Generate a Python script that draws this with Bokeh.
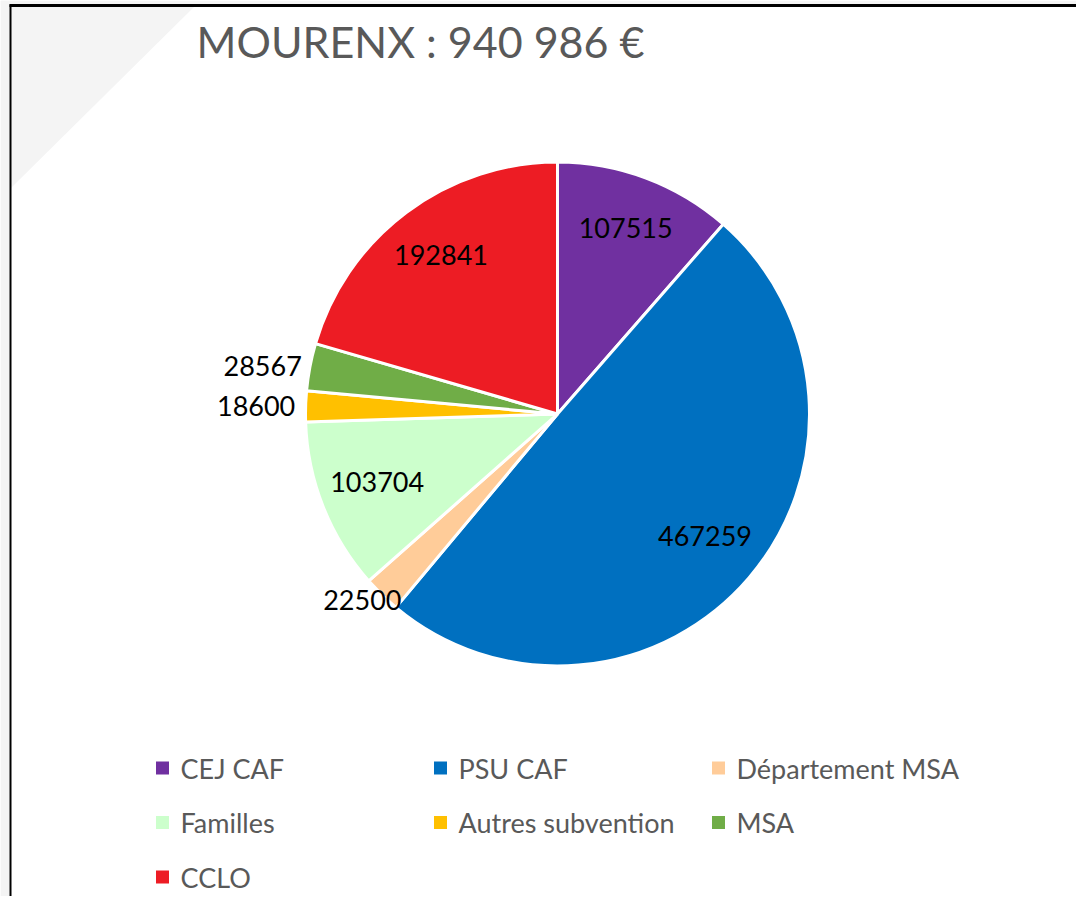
import numpy as np
from bokeh.plotting import figure
from bokeh.models import Range1d, ColumnDataSource
from bokeh.embed import file_html
from bokeh.resources import INLINE
from bokeh.core.properties import value

# ---------------- data ----------------
title_text = "MOURENX : 940 986 €"
categories = ["CEJ CAF", "PSU CAF", "Département MSA", "Familles",
              "Autres subvention", "MSA", "CCLO"]
amounts = [107515, 467259, 22500, 103704, 18600, 28567, 192841]
colors = ["#7030A0", "#0070C0", "#FFCC99", "#CCFFCC", "#FFC000", "#70AD47", "#ED1C24"]

# ---------------- layout ----------------
W, H = 1076, 896
PAGE_H = 912
FONT = "Lato"


def Y(y):
    return PAGE_H - y


p = figure(width=W, height=H, x_range=Range1d(0, W), y_range=Range1d(PAGE_H - H, PAGE_H),
           output_backend="svg", toolbar_location=None, min_border=0,
           x_axis_type=None, y_axis_type=None)
p.grid.visible = False
p.outline_line_color = None
p.background_fill_color = "white"
p.border_fill_color = "white"

# light grey surroundings and decorative corner triangle
p.patch([0, 9, 9, 0], [Y(0), Y(0), 0, 0], fill_color="#f4f4f4", line_color=None)
p.patch([0, W, W, 0], [Y(0), Y(0), Y(4), Y(4)], fill_color="#f4f4f4", line_color=None)
p.patch([10, 195, 10], [Y(5), Y(5), Y(188)], fill_color="#f4f4f4", line_color=None)
# frame
p.line([9, W], [Y(5), Y(5)], line_color="black", line_width=3)
p.line([10, 10], [Y(4), 0], line_color="black", line_width=2)

# ---------------- pie ----------------
cx, cy, R = 557, Y(413.5), 252
vals = np.array(amounts, dtype=float)
frac = vals / vals.sum()
cum_end = np.cumsum(frac)
cum_start = cum_end - frac
start_angle = np.pi / 2 - 2 * np.pi * cum_end
end_angle = np.pi / 2 - 2 * np.pi * cum_start

src = ColumnDataSource(dict(start=start_angle, end=end_angle, color=colors, cat=categories))
p.wedge(x=cx, y=cy, radius=R, start_angle="start", end_angle="end",
        fill_color="color", line_color="white", line_width=3, source=src)

# data labels
mid = 2 * np.pi * (cum_start + cum_end) / 2  # clockwise from 12 o'clock
lx, ly = [], []
for f, th in zip(frac, mid):
    s, c = np.sin(th), np.cos(th)
    if f < 0.035:
        r = 1.03 * R
        lx.append(cx + r * s + 42 * s ** 3)
        ly.append(cy + r * c)
    else:
        r = 0.77 * R
        lx.append(cx + r * s)
        ly.append(cy + r * c + 4)
p.text(x=lx, y=ly, text=[str(a) for a in amounts], text_font=value(FONT),
       text_font_size="27px", text_align="center", text_baseline="middle",
       text_color="black")

# title
p.text(x=[420], y=[Y(41)], text=[title_text], text_font=value(FONT),
       text_font_size="43px", text_align="center", text_baseline="middle",
       text_color="#595959")

# ---------------- legend ----------------
n = len(categories)
cols = [i % 3 for i in range(n)]
rows = [i // 3 for i in range(n)]
sq_x = [162 + 278 * c for c in cols]
sq_y = [Y(767.5 + 54.5 * r) for r in rows]
tx_x = [180 + 278 * c for c in cols]
p.rect(x=sq_x, y=sq_y, width=13, height=13, fill_color=colors, line_color=None)
p.text(x=tx_x, y=sq_y, text=categories, text_font=value(FONT),
       text_font_size="27px", text_align="left", text_baseline="middle",
       text_color="#595959")

open("out.html", "w").write(file_html(p, INLINE))
